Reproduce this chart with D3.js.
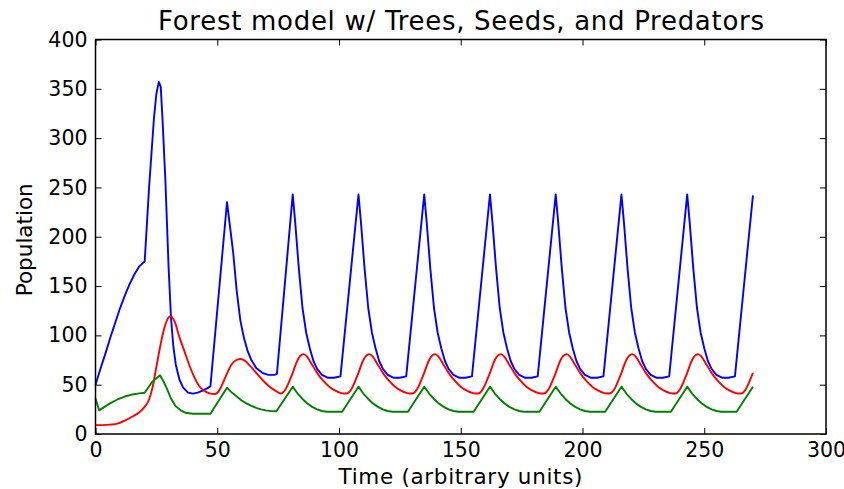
<!doctype html>
<html lang="en">
<head>
    <meta charset="utf-8"/>
    <title>Forest model</title>
    <style>
        body { margin: 0; background: #fff; }
        svg { display: block; font-family: "DejaVu Sans", sans-serif; }
    </style>
</head>
<body>
    <svg id="chart"></svg>
    <script src="https://d3js.org/d3.v7.min.js"></script>
    <script>
        // values, [time, population]
        const trees = [
            [0,50],[2,66],[4,81],[6,97],[8,112],[10,127],[12,140],[14,152],[16,162],[18,170],[20.2,175],
            [22,250],[24,320],[25,345],[26,357],[26.8,352],[27.5,320],[28.7,257],[30,170],[31,118],[32,88],
            [33,70],[34.5,55],[36,47],[38,42],[40,41],[42,42],[44,44],[46,46.5],[47.2,48.5],
            [54,235],[55,215],[56.5,185],[58,145],[59.5,115],[61,97],[62.5,84],[64,75],[66,67],[68.5,62],[71,60],[73.5,60],[74.5,61],
            [81,243],[82,215],[83.5,168],[85,128],[86.5,103],[88,87],[89.5,74],[91,66],[93,60],[95.5,57],[98,57],[100.6,58.5],
            [108,243],[109,215],[110.5,168],[112,128],[113.5,103],[115,87],[116.5,74],[118,66],[120,60],[122.5,57],[125,57],[127.6,58.5],
            [135,243],[136,215],[137.5,168],[139,128],[140.5,103],[142,87],[143.5,74],[145,66],[147,60],[149.5,57],[152,57],[154.6,58.5],
            [162,243],[163,215],[164.5,168],[166,128],[167.5,103],[169,87],[170.5,74],[172,66],[174,60],[176.5,57],[179,57],[181.6,58.5],
            [189,243],[190,215],[191.5,168],[193,128],[194.5,103],[196,87],[197.5,74],[199,66],[201,60],[203.5,57],[206,57],[208.6,58.5],
            [216,243],[217,215],[218.5,168],[220,128],[221.5,103],[223,87],[224.5,74],[226,66],[228,60],[230.5,57],[233,57],[235.6,58.5],
            [243,243],[244,215],[245.5,168],[247,128],[248.5,103],[250,87],[251.5,74],[253,66],[255,60],[257.5,57],[260,57],[262.6,58.5],
            [270,242]
        ];

        const seeds = [
            [0,9],[3,9],[6,9.5],[9,10.5],[12,13.5],[15,17.5],[18,22],[20,27],[22,35],[23.5,48],[25,68],[26.5,88],
            [28,105],[29.5,116],[30.8,119.5],[32.5,114],[34.5,98],[36.5,84],[38.5,70],[40.5,58],[42.5,49],[44.5,44],
            [46.5,41.5],[49,40.5],[51,45],[52.7,54],[54.5,64],[56,71],[57.5,74.5],[59.5,76],[61.5,74],[63.5,69],
            [66,62],[68.5,55],[71,49],[73.5,44.5],
            [76,41],[77,42],[78,45],[79,50],[80,56],[81,62],[82,69],[83,75],[84,79],[85.5,81],[87,78],[89,70],[91,62],[93.5,54],[96,48],[98.5,44],[101,41.5],
            [103,41],[104,42],[105,45],[106,50],[107,56],[108,62],[109,69],[110,75],[111,79],[112.5,81],[114,78],[116,70],[118,62],[120.5,54],[123,48],[125.5,44],[128,41.5],
            [130,41],[131,42],[132,45],[133,50],[134,56],[135,62],[136,69],[137,75],[138,79],[139.5,81],[141,78],[143,70],[145,62],[147.5,54],[150,48],[152.5,44],[155,41.5],
            [157,41],[158,42],[159,45],[160,50],[161,56],[162,62],[163,69],[164,75],[165,79],[166.5,81],[168,78],[170,70],[172,62],[174.5,54],[177,48],[179.5,44],[182,41.5],
            [184,41],[185,42],[186,45],[187,50],[188,56],[189,62],[190,69],[191,75],[192,79],[193.5,81],[195,78],[197,70],[199,62],[201.5,54],[204,48],[206.5,44],[209,41.5],
            [211,41],[212,42],[213,45],[214,50],[215,56],[216,62],[217,69],[218,75],[219,79],[220.5,81],[222,78],[224,70],[226,62],[228.5,54],[231,48],[233.5,44],[236,41.5],
            [238,41],[239,42],[240,45],[241,50],[242,56],[243,62],[244,69],[245,75],[246,79],[247.5,81],[249,78],[251,70],[253,62],[255.5,54],[258,48],[260.5,44],[263,41.5],
            [265,41],[266,42],[267,45],[268,50],[269,56],[270,62]
        ];

        const predators = [
            [0,36],[1.5,24],[4,28],[6,31],[9,35],[12,38],[15,40],[18,41.2],[20.2,41.8],[23.3,53],[26.5,59.5],
            [28,53],[29.5,45],[31,36],[33,28],[35,24],[37,21.5],[40,20.5],[47.2,20.5],
            [54,47],[56,42],[58,38],[60,34],[62,31],[64,28.5],[66,26.5],[68,25],[70,24],[72,23.2],[74.3,23],
            [81,48],[83,41],[85,35.5],[87,31],[89,27.5],[91,25],[93,23.3],[95,22.6],[101.3,22.6],
            [108,48],[110,41],[112,35.5],[114,31],[116,27.5],[118,25],[120,23.3],[122,22.6],[128.3,22.6],
            [135,48],[137,41],[139,35.5],[141,31],[143,27.5],[145,25],[147,23.3],[149,22.6],[155.3,22.6],
            [162,48],[164,41],[166,35.5],[168,31],[170,27.5],[172,25],[174,23.3],[176,22.6],[182.3,22.6],
            [189,48],[191,41],[193,35.5],[195,31],[197,27.5],[199,25],[201,23.3],[203,22.6],[209.3,22.6],
            [216,48],[218,41],[220,35.5],[222,31],[224,27.5],[226,25],[228,23.3],[230,22.6],[236.3,22.6],
            [243,48],[245,41],[247,35.5],[249,31],[251,27.5],[253,25],[255,23.3],[257,22.6],[263.3,22.6],
            [270,48]
        ];

        const xTicks = [0, 50, 100, 150, 200, 250, 300];
        const yTicks = [0, 50, 100, 150, 200, 250, 300, 350, 400];

        const width = 844, height = 489;
        const margin = {top: 39.5, right: 18, bottom: 55, left: 95.5};

        const svg = d3.select("#chart")
            .attr("width", width)
            .attr("height", height);

        const x = d3.scaleLinear().domain([0, 300]).range([margin.left, width - margin.right]);
        const y = d3.scaleLinear().domain([0, 400]).range([height - margin.bottom, margin.top]);

        // series
        const series = [
            {data: trees, color: "#0000ff", curve: d3.curveLinear},
            {data: seeds, color: "#ff0000", curve: d3.curveMonotoneX},
            {data: predators, color: "#008000", curve: d3.curveLinear}
        ];

        const plot = svg.append("g");
        series.forEach(s => {
            plot.append("path")
                .datum(s.data)
                .attr("fill", "none")
                .attr("stroke", s.color)
                .attr("stroke-width", 1.9)
                .attr("stroke-linejoin", "round")
                .attr("d", d3.line().x(d => x(d[0])).y(d => y(d[1])).curve(s.curve));
        });

        // axes, ticks pointing inwards like matplotlib classic
        function styleAxis(g) {
            g.select(".domain").remove();
            g.selectAll(".tick line").attr("stroke", "#000").attr("stroke-width", 1);
            g.selectAll("text").attr("fill", "#000").attr("font-size", 20.5)
                .attr("font-family", "DejaVu Sans");
        }

        svg.append("g")
            .attr("transform", `translate(0,${y(0)})`)
            .call(d3.axisBottom(x).tickValues(xTicks).tickSizeInner(-6).tickSizeOuter(0).tickPadding(8.5))
            .call(styleAxis);

        svg.append("g")
            .attr("transform", `translate(0,${y(400)})`)
            .call(d3.axisTop(x).tickValues(xTicks).tickSizeInner(-6).tickSizeOuter(0).tickFormat(""))
            .call(styleAxis);

        svg.append("g")
            .attr("transform", `translate(${x(0)},0)`)
            .call(d3.axisLeft(y).tickValues(yTicks).tickSizeInner(-6).tickSizeOuter(0).tickPadding(8))
            .call(styleAxis);

        svg.append("g")
            .attr("transform", `translate(${x(300)},0)`)
            .call(d3.axisRight(y).tickValues(yTicks).tickSizeInner(-6).tickSizeOuter(0).tickFormat(""))
            .call(styleAxis);

        // frame
        svg.append("rect")
            .attr("x", x(0))
            .attr("y", y(400))
            .attr("width", x(300) - x(0))
            .attr("height", y(0) - y(400))
            .attr("fill", "none")
            .attr("stroke", "#000")
            .attr("stroke-width", 1.5);

        // labels
        svg.append("text")
            .attr("x", 461)
            .attr("y", 29.5)
            .attr("text-anchor", "middle")
            .attr("font-size", 26)
            .attr("textLength", 606)
            .attr("lengthAdjust", "spacing")
            .text("Forest model w/ Trees, Seeds, and Predators");

        svg.append("text")
            .attr("x", 460.5)
            .attr("y", 483.5)
            .attr("text-anchor", "middle")
            .attr("font-size", 21.5)
            .attr("textLength", 244)
            .attr("lengthAdjust", "spacing")
            .text("Time (arbitrary units)");

        svg.append("text")
            .attr("transform", `translate(31.7,${(y(0) + y(400)) / 2 + 3}) rotate(-90)`)
            .attr("text-anchor", "middle")
            .attr("font-size", 21.5)
            .text("Population");
    </script>
</body>
</html>
